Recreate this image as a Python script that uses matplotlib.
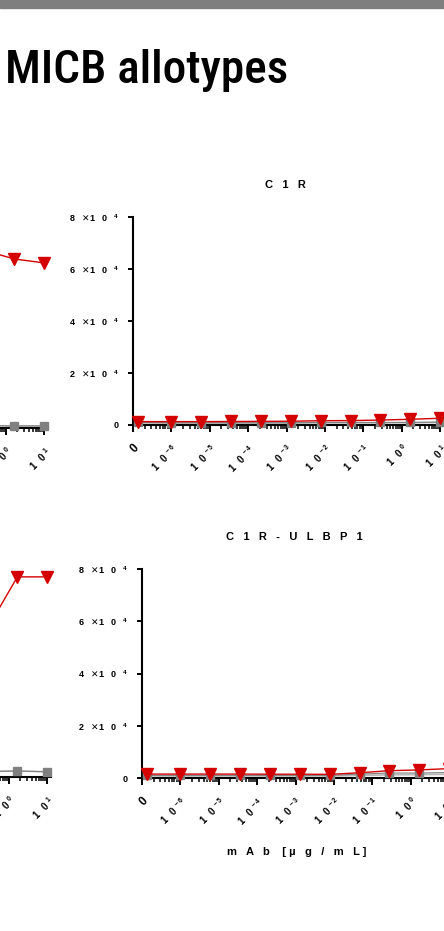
import numpy as np
import matplotlib.pyplot as plt
from matplotlib.patches import Rectangle
from matplotlib.ticker import FixedLocator, LogLocator, NullFormatter
from matplotlib import font_manager

W, H, DPI = 444, 931, 100

# mAb concentration (ug/mL); 0 = no antibody
conc = [0, 9.9e-7, 5.95e-6, 3.57e-5, 2.14e-4, 1.29e-3, 7.72e-3, 4.63e-2, 0.278, 1.67, 10.0]

# MFI values (left panels are mostly outside the crop)
ul_red = [1500, 1500, 1600, 2500, 8000, 28000, 52000, 64000, 68300, 65000, 63500]
ul_gray = [900, 900, 900, 900, 900, 900, 900, 900, 900, 800, 800]
ll_red = [1600, 1600, 1700, 2200, 4000, 12000, 30000, 45000, 56800, 76600, 76600]
ll_gray = [1500, 1500, 1500, 1600, 1600, 1700, 1800, 2000, 2100, 2300, 2000]
c1r_red = [1300, 1300, 1300, 1350, 1400, 1450, 1650, 1700, 1900, 2200, 2600]
c1r_gray = [1000, 900, 900, 900, 900, 900, 1000, 1000, 1000, 1000, 1100]
c1r_light = [800, 700, 700, 700, 700, 700, 800, 800, 800, 900, 1000]
ulbp_red = [1500, 1500, 1500, 1500, 1450, 1450, 1400, 2000, 2800, 3100, 3600]
ulbp_gray = [1000, 1000, 1000, 1000, 1000, 1000, 1000, 1500, 1900, 1900, 2100]
ulbp_light = [800, 800, 800, 800, 800, 800, 800, 1000, 1200, 1300, 1400]

x_ticks = [1e-7, 1e-6, 1e-5, 1e-4, 1e-3, 1e-2, 1e-1, 1e0, 1e1]
x_exps = ['-6', '-5', '-4', '-3', '-2', '-1', '0', '1']
y_ticks = [0, 20000, 40000, 60000, 80000]
y_mant = ['2', '4', '6', '8']

RED = '#d40000'
GRAY = '#808080'
LIGHT = '#b8b8b8'


def narrow_font():
    # try to find a condensed sans face for the slide heading
    fl = [f for f in font_manager.fontManager.ttflist if f.style == 'normal']
    for want in ('Liberation Sans Narrow', 'Roboto Condensed', 'DejaVu Sans Condensed'):
        for wt in (500, 400):
            for f in fl:
                if f.name == want and f.weight == wt:
                    return font_manager.FontProperties(fname=f.fname), 34
    for f in fl:
        if f.stretch == 'condensed' and 'Sans' in f.name and f.weight == 400:
            return font_manager.FontProperties(fname=f.fname), 33
    return font_manager.FontProperties(family='Liberation Sans'), 30


plt.rcParams['font.family'] = ['Liberation Sans', 'DejaVu Sans']
plt.rcParams['font.weight'] = 'bold'
plt.rcParams['mathtext.fontset'] = 'custom'
plt.rcParams['mathtext.rm'] = 'DejaVu Sans'
plt.rcParams['mathtext.bf'] = 'Liberation Sans:bold'
plt.rcParams['mathtext.default'] = 'bf'

fig = plt.figure(figsize=(W / DPI, H / DPI), dpi=DPI)

# grey band at the top of the slide
fig.patches.append(Rectangle((0, 1 - 8 / H), 1, 8 / H, transform=fig.transFigure,
                             color='#7f7f7f', zorder=0))
hfont, hsize = narrow_font()
hfont.set_size(hsize)
fig.text(5 / W, 1 - 83 / H, 'MICB allotypes', fontproperties=hfont,
         va='baseline', ha='left')


def spaced(s, gap='   '):
    return gap.join(s)


def make_panel(left, y0, ytop, series, title=None, xlabel=False):
    decade = 38.4
    right = left + 8.1 * decade
    ax = fig.add_axes([left / W, 1 - y0 / H, (right - left) / W, (y0 - ytop) / H])
    x = np.array(conc, dtype=float)
    x[x == 0] = 1.35e-7  # where the 0 dose sits on the broken log axis
    for vals, color, marker, ms, lw in series:
        ax.plot(x, vals, color=color, marker=marker, markersize=ms, lw=lw,
                clip_on=False, zorder=3)
    ax.set_xscale('log')
    ax.set_xlim(1e-7, 10 ** 1.1)
    ax.set_ylim(0, 80000)
    ax.xaxis.set_major_locator(FixedLocator(x_ticks))
    ax.xaxis.set_minor_locator(LogLocator(base=10, subs=np.arange(2, 10), numticks=60))
    ax.xaxis.set_minor_formatter(NullFormatter())
    xl = ['0'] + [r'$1\ \ 0^{\ ' + e + '}$' for e in x_exps]
    ax.set_xticklabels(xl, rotation=45, ha='right', va='top', rotation_mode='anchor',
                       fontsize=7)
    ax.get_xticklabels()[0].set_fontsize(8.5)
    ax.set_yticks(y_ticks)
    yl = ['0'] + [m + r'   $\mathrm{✕}$1   0$^{\ \ \ 4}$' for m in y_mant]
    ax.set_yticklabels(yl, fontsize=6.5)
    for side in ('top', 'right'):
        ax.spines[side].set_visible(False)
    for side in ('left', 'bottom'):
        ax.spines[side].set_linewidth(1.5)
    ax.tick_params(axis='x', which='major', length=5, width=1.4, pad=7)
    ax.tick_params(axis='x', which='minor', length=3, width=1.1)
    ax.tick_params(axis='y', which='major', length=3.5, width=1.4, pad=6.5)
    ax.patch.set_alpha(0)
    if title:
        fig.text((left + 152) / W, 1 - (ytop - 32) / H, spaced(title), fontsize=8,
                 ha='center', va='center')
    if xlabel:
        fig.text((left + 155) / W, 1 - (y0 + 74) / H, 'm   A   b    [ µ   g   /   m   L ]',
                 fontsize=8, ha='center', va='center')
    return ax


make_panel(-263, 428, 220, [(ul_gray, LIGHT, None, 0, 1.2),
                            (ul_gray, GRAY, 's', 6, 0.8),
                            (ul_red, RED, 'v', 8, 1.0)])
make_panel(-260, 777, 568, [(ll_gray, LIGHT, None, 0, 1.2),
                            (ll_gray, GRAY, 's', 6, 0.8),
                            (ll_red, RED, 'v', 8, 1.0)], xlabel=True)
make_panel(133, 425, 217, [(c1r_light, LIGHT, None, 0, 1.2),
                           (c1r_gray, GRAY, 's', 6, 0.8),
                           (c1r_red, RED, 'v', 8, 1.0)], title='C1R')
make_panel(142, 778, 569, [(ulbp_light, LIGHT, None, 0, 1.2),
                           (ulbp_gray, GRAY, 's', 6, 0.8),
                           (ulbp_red, RED, 'v', 8, 1.0)], title='C1R-ULBP1', xlabel=True)

fig.savefig('out.png', dpi=DPI)
